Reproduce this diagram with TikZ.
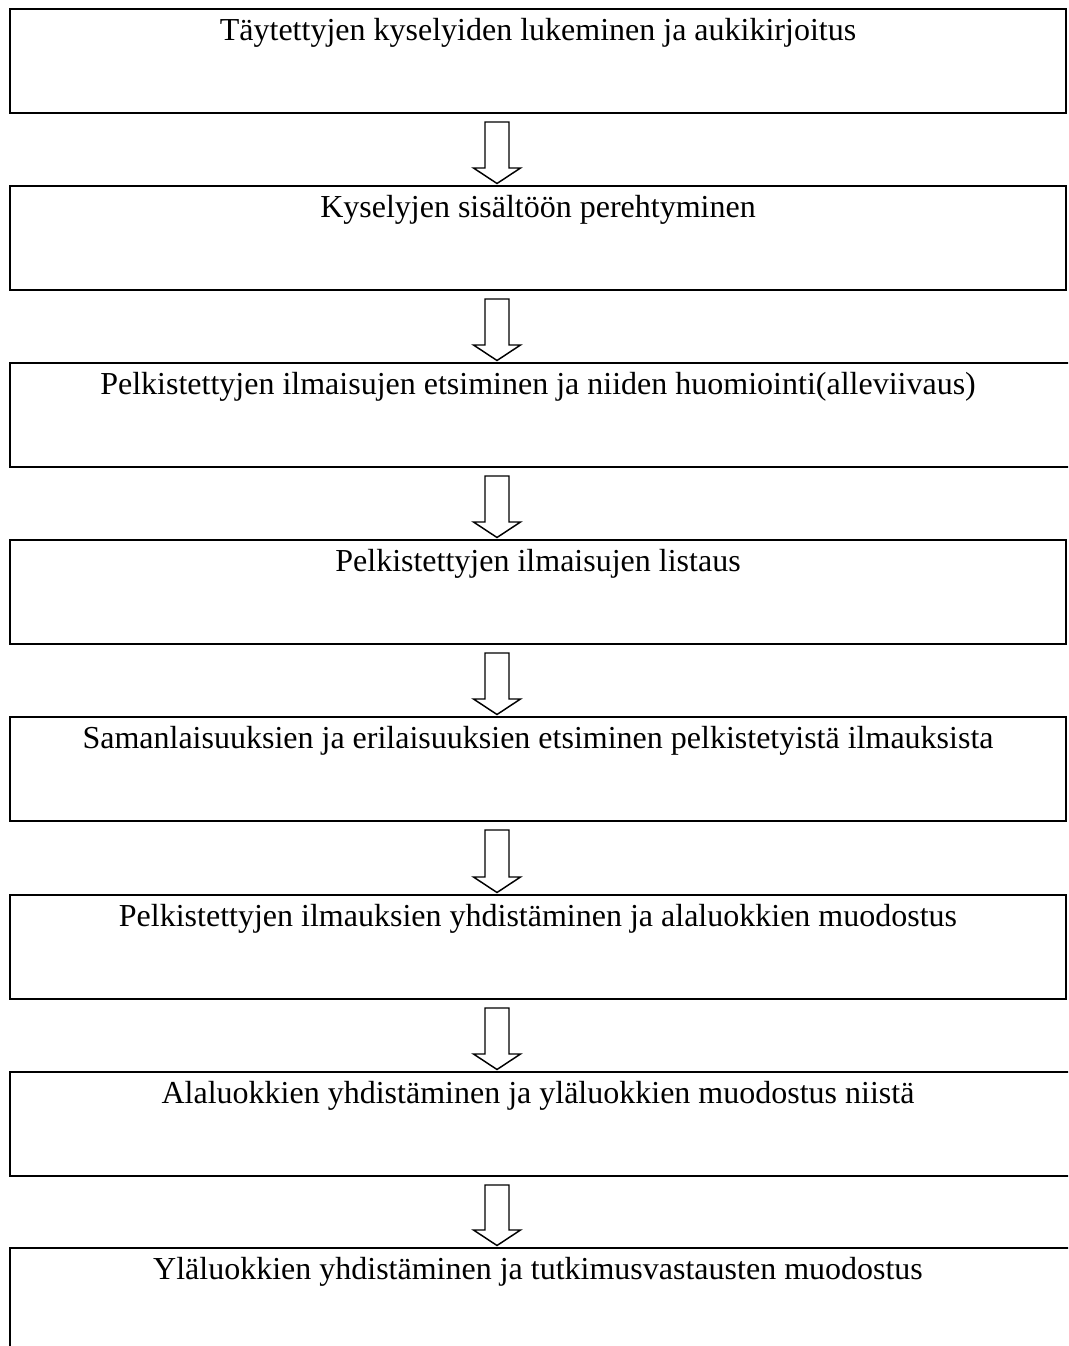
\documentclass[tikz,border=0pt]{standalone}
\usepackage{fontspec}
\setmainfont{Liberation Serif}
\usetikzlibrary{calc}

% one drawing unit = 0.75pt; sizes in node options are given in pt
\tikzset{
  stage/.style={draw, line width=2.2pt, rectangle, outer sep=0pt, inner sep=0pt,
                anchor=north west, minimum height=78pt},
  full/.style={minimum width=792pt},
  wide/.style={minimum width=810pt},
  stagetext/.style={anchor=base, inner sep=0pt, font=\fontsize{24}{28}\selectfont},
  arrowline/.style={draw, line width=1.1pt, fill=white, line join=miter}
}

% hollow block arrow from the bottom of one stage to the top of the next
\newcommand\stagearrow[2]{%
  \draw[arrowline]
    ($(#1.south -| ax)+(-12,9)$) -- ($(#1.south -| ax)+(12,9)$)
    -- ($(#2.north -| ax)+(12,-18)$) -- ($(#2.north -| ax)+(23.5,-18)$)
    -- ($(#2.north -| ax)+(0,-2.5)$)
    -- ($(#2.north -| ax)+(-23.5,-18)$) -- ($(#2.north -| ax)+(-12,-18)$)
    -- cycle;}

\begin{document}
\begin{tikzpicture}[x=0.75pt, y=-0.75pt]
  \useasboundingbox (0,0) rectangle (1068,1346);
  \clip (0,0) rectangle (1068,1346);
  \coordinate (ax) at (497,0);

  % stage boxes
  \node[stage, full] (b1) at (10,9)    {};
  \node[stage, full] (b2) at (10,186)  {};
  \node[stage, wide] (b3) at (10,363)  {};
  \node[stage, full] (b4) at (10,540)  {};
  \node[stage, full] (b5) at (10,717)  {};
  \node[stage, full] (b6) at (10,895)  {};
  \node[stage, wide] (b7) at (10,1072) {};
  \node[stage, wide, minimum height=100pt] (b8) at (10,1248) {};

  % stage titles
  \node[stagetext] (t1) at ($(538,0 |- b1.north)+(0,31)$) {Täytettyjen kyselyiden lukeminen ja aukikirjoitus};
  \node[stagetext] (t2) at ($(538,0 |- b2.north)+(0,31)$) {Kyselyjen sisältöön perehtyminen};
  \node[stagetext] (t3) at ($(538,0 |- b3.north)+(0,31)$) {Pelkistettyjen ilmaisujen etsiminen ja niiden huomiointi(alleviivaus)};
  \node[stagetext] (t4) at ($(538,0 |- b4.north)+(0,31)$) {Pelkistettyjen ilmaisujen listaus};
  \node[stagetext] (t5) at ($(538,0 |- b5.north)+(0,31)$) {Samanlaisuuksien ja erilaisuuksien etsiminen pelkistetyistä ilmauksista};
  \node[stagetext] (t6) at ($(538,0 |- b6.north)+(0,31)$) {Pelkistettyjen ilmauksien yhdistäminen ja alaluokkien muodostus};
  \node[stagetext] (t7) at ($(538,0 |- b7.north)+(0,31)$) {Alaluokkien yhdistäminen ja yläluokkien muodostus niistä};
  \node[stagetext] (t8) at ($(538,0 |- b8.north)+(0,31)$) {Yläluokkien yhdistäminen ja tutkimusvastausten muodostus};

  % arrows between consecutive stages
  \stagearrow{b1}{b2}
  \stagearrow{b2}{b3}
  \stagearrow{b3}{b4}
  \stagearrow{b4}{b5}
  \stagearrow{b5}{b6}
  \stagearrow{b6}{b7}
  \stagearrow{b7}{b8}
\end{tikzpicture}
\end{document}
